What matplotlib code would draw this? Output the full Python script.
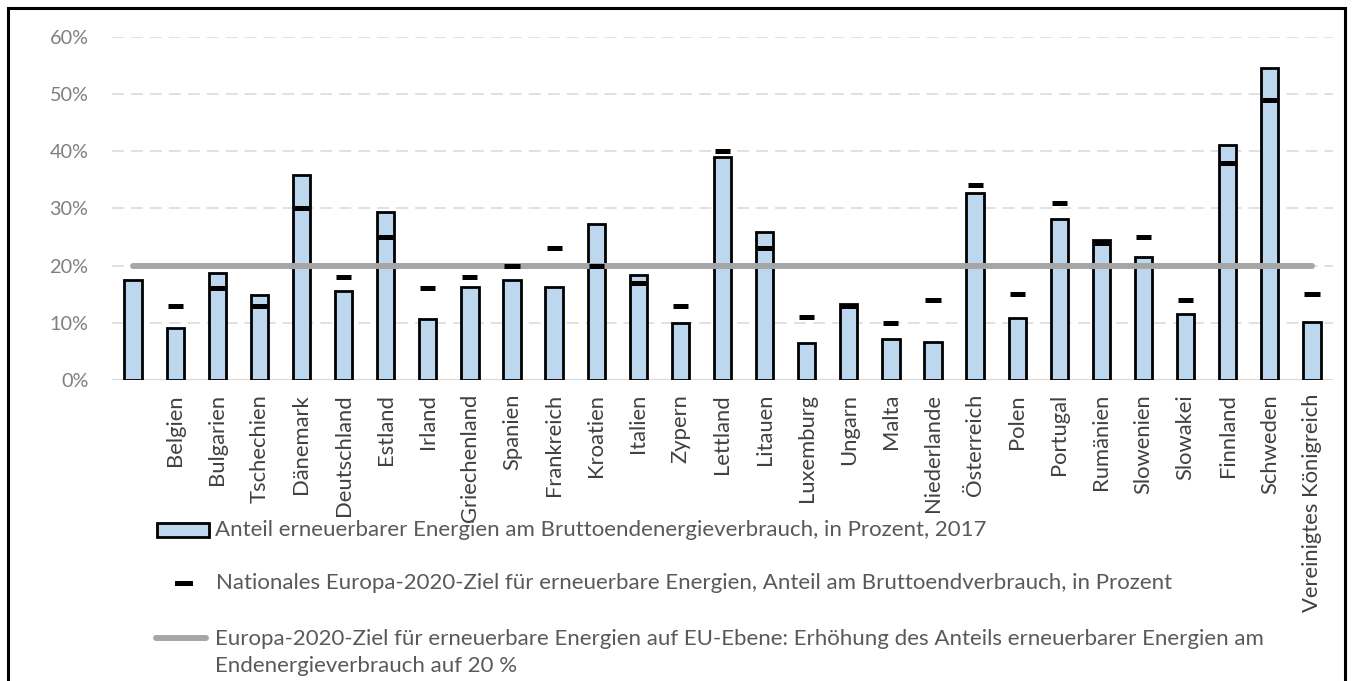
import matplotlib
matplotlib.use("Agg")
import matplotlib.pyplot as plt
import numpy as np
from matplotlib.patches import Rectangle
from matplotlib.lines import Line2D

plt.rcParams['font.family'] = ['Lato', 'DejaVu Sans']

countries = ["", "Belgien", "Bulgarien", "Tschechien", "Dänemark", "Deutschland",
             "Estland", "Irland", "Griechenland", "Spanien", "Frankreich", "Kroatien",
             "Italien", "Zypern", "Lettland", "Litauen", "Luxemburg", "Ungarn", "Malta",
             "Niederlande", "Österreich", "Polen", "Portugal", "Rumänien", "Slowenien",
             "Slowakei", "Finnland", "Schweden", "Vereinigtes Königreich"]
share_2017 = [17.5, 9.1, 18.7, 14.8, 35.8, 15.5, 29.3, 10.6, 16.3, 17.5, 16.3, 27.2,
              18.3, 9.9, 39.0, 25.8, 6.4, 13.3, 7.2, 6.6, 32.6, 10.9, 28.1, 24.5,
              21.5, 11.5, 41.0, 54.5, 10.2]
target_2020 = [np.nan, 13, 16, 13, 30, 18, 25, 16, 18, 20, 23, 20, 17, 13, 40, 23,
               11, 13, 10, 14, 34, 15, 31, 24, 25, 14, 38, 49, 15]
eu_target = 20
yticks = [0, 10, 20, 30, 40, 50, 60]

legend_labels = [
    "Anteil erneuerbarer Energien am Bruttoendenergieverbrauch, in Prozent, 2017",
    "Nationales Europa-2020-Ziel für erneuerbare Energien, Anteil am Bruttoendverbrauch, in Prozent",
    "Europa-2020-Ziel für erneuerbare Energien auf EU-Ebene: Erhöhung des Anteils erneuerbarer Energien am\nEndenergieverbrauch auf 20 %",
]

W, H = 1353, 681
fig = plt.figure(figsize=(W / 100, H / 100), dpi=100)
ax = fig.add_axes([112 / W, 1 - 380 / H, (1333 - 112) / W, (380 - 36.7) / H])

x = np.arange(len(countries))
bar_color = "#bdd7ee"
gray_line = "#a6a6a6"

ax.bar(x, share_2017, width=0.41, color=bar_color, edgecolor="black", linewidth=2.0, zorder=3)
ax.plot([x[0], x[-1]], [eu_target, eu_target], color=gray_line, lw=4.3,
        solid_capstyle="round", zorder=4)
ax.hlines(target_2020, x - 0.18, x + 0.18, color="black", lw=3.6, zorder=5)

ax.set_xlim(-0.5, len(countries) - 0.5)
ax.set_ylim(0, 60)
ax.set_yticks(yticks)
ax.set_yticklabels([f"{v}%" for v in yticks])
ax.set_xticks(x)
ax.set_xticklabels(countries, rotation=90, ha="center", va="top")
ax.tick_params(axis="y", length=0, pad=17, labelsize=14.3, labelcolor="#7f7f7f")
ax.tick_params(axis="x", length=0, pad=10, labelsize=15.8, labelcolor="#404040")
for s in ax.spines.values():
    s.set_visible(False)
ax.yaxis.grid(True, color="#d9d9d9", lw=1.1, linestyle=(0, (7.8, 4.6)), zorder=0)
ax.axhline(0, color="#d9d9d9", lw=1.5, zorder=1)
ax.set_axisbelow(True)

# Legend (drawn manually to reproduce layout)
def fx(px):
    return px / W

def fy(py):
    return 1 - py / H

txt_kw = dict(fontsize=16, color="#595959", va="center", ha="left", transform=fig.transFigure)
fig.patches.append(Rectangle((fx(157), fy(537)), fx(209) - fx(157), fy(523) - fy(537),
                             facecolor=bar_color, edgecolor="black", lw=2.0,
                             transform=fig.transFigure))
fig.text(fx(215), fy(530), legend_labels[0], **txt_kw)
fig.lines.append(Line2D([fx(177), fx(190)], [fy(582.5), fy(582.5)], color="black", lw=3.6,
                        transform=fig.transFigure))
fig.text(fx(216), fy(583), legend_labels[1], **txt_kw)
fig.lines.append(Line2D([fx(156), fx(206)], [fy(638), fy(638)], color=gray_line, lw=4.3,
                        solid_capstyle="round", transform=fig.transFigure))
fig.text(fx(215), fy(652.5), legend_labels[2], linespacing=1.45, **txt_kw)

# Outer frame
fig.patches.append(Rectangle((fx(7.5), fy(690)), fx(1345) - fx(7.5), fy(8) - fy(690),
                             facecolor="none", edgecolor="black", lw=2.2,
                             transform=fig.transFigure))

fig.savefig("out.png", dpi=100)
